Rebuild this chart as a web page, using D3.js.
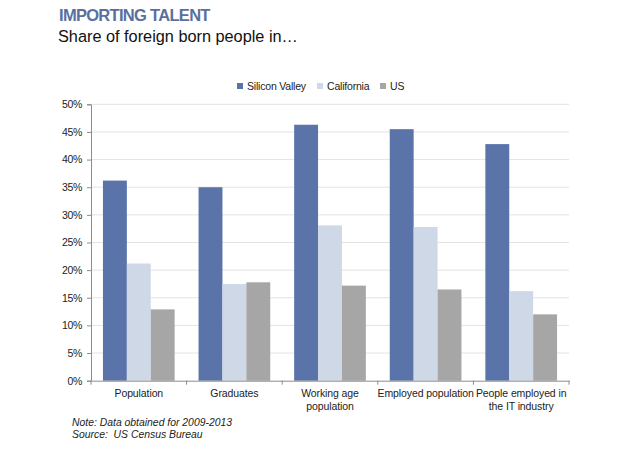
<!DOCTYPE html>
<html><head><meta charset="utf-8">
<script src="https://cdn.jsdelivr.net/npm/d3@7"></script>
<style>body{margin:0;background:#fff;font-family:"Liberation Sans",Arial,sans-serif;}</style>
</head><body>
<svg id="c" width="620" height="452"></svg>
<script>
const categories = [["Population"],["Graduates"],["Working age","population"],["Employed population"],["People employed in","the IT industry"]];
const series = ["Silicon Valley","California","US"];
const siliconValley = [36.2, 35.0, 46.3, 45.5, 42.8];
const california = [21.2, 17.5, 28.1, 27.8, 16.2];
const us = [12.9, 17.8, 17.2, 16.5, 12.0];
const yTicks = [0,5,10,15,20,25,30,35,40,45,50];
const colors = ["#5a73a9","#cfd8e7","#a6a6a6"];

(function(){
const svg = d3.select("#c");
const mLeft = 91, mRight = 569, mTop = 104.3, mBottom = 380.7;
const x0 = d3.scaleBand().domain(d3.range(categories.length)).range([mLeft, mRight]).paddingInner(0).paddingOuter(0);
const x1 = d3.scaleBand().domain(series).range([0, x0.bandwidth()]).paddingInner(0).paddingOuter(0.5);
const y = d3.scaleLinear().domain([0,50]).range([mBottom, mTop]);

svg.append("text").attr("x",59).attr("y",21).attr("fill","#5b6f9f").attr("font-weight","bold")
  .attr("font-size",16.5).attr("letter-spacing",-0.7).text("IMPORTING TALENT");
svg.append("text").attr("x",58).attr("y",42).attr("fill","#111").attr("font-size",16.3).text("Share of foreign born people in…");

svg.append("g").selectAll("line").data(yTicks.filter(d=>d>0)).join("line")
  .attr("x1",mLeft).attr("x2",mRight).attr("y1",d=>y(d)).attr("y2",d=>y(d))
  .attr("stroke","#e3e3e3").attr("stroke-width",1);

const data = [siliconValley, california, us];
const g = svg.append("g");
categories.forEach((c,i)=>{
  series.forEach((s,j)=>{
    g.append("rect").attr("x",x0(i)+x1(s)).attr("width",x1.bandwidth())
      .attr("y",y(data[j][i])).attr("height",mBottom-y(data[j][i])).attr("fill",colors[j]);
  });
});

const ya = svg.append("g").attr("transform",`translate(${mLeft},0)`)
  .call(d3.axisLeft(y).tickValues(yTicks).tickFormat(d=>d+"%").tickSize(4).tickPadding(5));
ya.select(".domain").attr("stroke","#8c8c8c");
ya.selectAll(".tick line").attr("stroke","#8c8c8c");
ya.selectAll("text").attr("font-size",10.5).attr("letter-spacing",-0.3).attr("fill","#222").attr("font-family","Liberation Sans, Arial, sans-serif");

const xa = svg.append("g").attr("transform",`translate(0,${mBottom})`)
  .call(d3.axisBottom(x0).tickValues([]).tickSizeOuter(0));
xa.select(".domain").attr("stroke","#8c8c8c");
d3.range(categories.length+1).forEach(i=>{
  const xx = mLeft + i*x0.bandwidth();
  svg.append("line").attr("x1",xx).attr("x2",xx).attr("y1",mBottom).attr("y2",mBottom+4).attr("stroke","#8c8c8c");
});
categories.forEach((c,i)=>{
  const cx = x0(i)+x0.bandwidth()/2;
  const t = svg.append("text").attr("text-anchor","middle").attr("font-size",10.5).attr("letter-spacing",-0.1).attr("fill","#222")
    .attr("x",cx).attr("y",397);
  c.forEach((line,k)=>t.append("tspan").attr("x",cx).attr("dy",k?12.5:0).text(line));
});

const lx = [237, 317, 380];
series.forEach((s,j)=>{
  svg.append("rect").attr("x",lx[j]).attr("y",83).attr("width",6).attr("height",6).attr("fill",colors[j]);
  svg.append("text").attr("x",lx[j]+10).attr("y",90).attr("font-size",10.5).attr("letter-spacing",-0.2).attr("fill","#222").text(s);
});

svg.append("text").attr("x",72).attr("y",426).attr("font-size",10.4).attr("font-style","italic").attr("fill","#222").text("Note: Data obtained for 2009-2013");
svg.append("text").attr("x",72).attr("y",438).attr("font-size",10.4).attr("font-style","italic").attr("fill","#222")
  .style("white-space","pre").text("Source:  US Census Bureau");
})();
</script>
</body></html>
